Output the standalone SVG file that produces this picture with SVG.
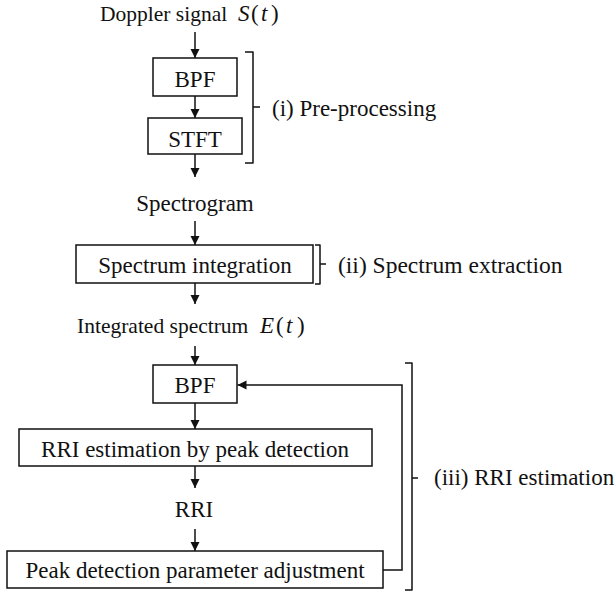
<svg xmlns="http://www.w3.org/2000/svg" width="615" height="595" viewBox="0 0 615 595">
<style>
text{font-family:"Liberation Serif","Times New Roman",serif;font-size:23px;fill:#111}
.c{text-anchor:middle}
.s{font-size:21.5px}
.m{font-style:italic;font-size:23px}
.p{font-size:23px}
.box{fill:#fff;stroke:#111;stroke-width:1.5}
.ln{fill:none;stroke:#111;stroke-width:1.5}
.br{fill:none;stroke:#111;stroke-width:1.5;stroke-linejoin:round}
</style>
<defs>
<marker id="ah" markerUnits="userSpaceOnUse" markerWidth="10" markerHeight="10" refX="9" refY="4.5" orient="auto">
<path d="M0,0 L9,4.5 L0,9 z" fill="#111"/>
</marker>
</defs>
<rect width="615" height="595" fill="#fff"/>

<g id="connectors">
<line class="ln" x1="195" y1="32" x2="195" y2="58" marker-end="url(#ah)"/>
<line class="ln" x1="195" y1="96" x2="195" y2="118" marker-end="url(#ah)"/>
<line class="ln" x1="195" y1="154" x2="195" y2="177" marker-end="url(#ah)"/>
<line class="ln" x1="195" y1="221" x2="195" y2="245" marker-end="url(#ah)"/>
<line class="ln" x1="195" y1="283" x2="195" y2="304" marker-end="url(#ah)"/>
<line class="ln" x1="195" y1="346" x2="195" y2="365" marker-end="url(#ah)"/>
<line class="ln" x1="195" y1="403" x2="195" y2="429" marker-end="url(#ah)"/>
<line class="ln" x1="195" y1="466" x2="195" y2="488" marker-end="url(#ah)"/>
<line class="ln" x1="195" y1="529" x2="195" y2="551" marker-end="url(#ah)"/>
<path class="ln" d="M383,570 H402 V385 H237.5" marker-end="url(#ah)"/>
</g>

<g id="input">
<text class="s" x="100" y="21">Doppler signal <tspan class="m" x="238">S</tspan><tspan class="p" x="251">(</tspan><tspan class="m" x="261">t</tspan><tspan class="p" x="271">)</tspan></text>
</g>

<g id="bpf1">
<rect class="box" x="153" y="58" width="84" height="38"/>
<text class="c" x="195" y="87">BPF</text>
</g>

<g id="stft">
<rect class="box" x="148" y="118" width="94" height="36"/>
<text class="c" x="195" y="147">STFT</text>
</g>

<g id="bracket1">
<path class="br" d="M245,52 H253 V163 H245 M253,107 H260"/>
<text x="272" y="116">(i) Pre-processing</text>
</g>

<g id="spectrogram">
<text class="c" x="195" y="211">Spectrogram</text>
</g>

<g id="specint">
<rect class="box" x="76" y="245" width="237" height="38"/>
<text class="c" x="195" y="273">Spectrum integration</text>
</g>

<g id="bracket2">
<path class="br" d="M315,245 H320 V284 H315 M320,264 H326"/>
<text x="338" y="273" style="font-size:23.5px">(ii) Spectrum extraction</text>
</g>

<g id="integrated">
<text class="s" x="77" y="333">Integrated spectrum <tspan class="m" x="260">E</tspan><tspan class="p" x="276">(</tspan><tspan class="m" x="286">t</tspan><tspan class="p" x="297">)</tspan></text>
</g>

<g id="bpf2">
<rect class="box" x="153" y="365" width="84" height="38"/>
<text class="c" x="195" y="393">BPF</text>
</g>

<g id="rriest">
<rect class="box" x="19" y="429" width="353" height="37"/>
<text class="c" x="195" y="457">RRI estimation by peak detection</text>
</g>

<g id="rri">
<text class="c" x="194" y="517">RRI</text>
</g>

<g id="peakadj">
<rect class="box" x="7" y="551" width="376" height="37"/>
<text class="c" x="195" y="578">Peak detection parameter adjustment</text>
</g>

<g id="bracket3">
<path class="br" d="M405,363 H412 V590 H405 M412,478 H418"/>
<text x="434" y="485">(iii) RRI estimation</text>
</g>
</svg>
